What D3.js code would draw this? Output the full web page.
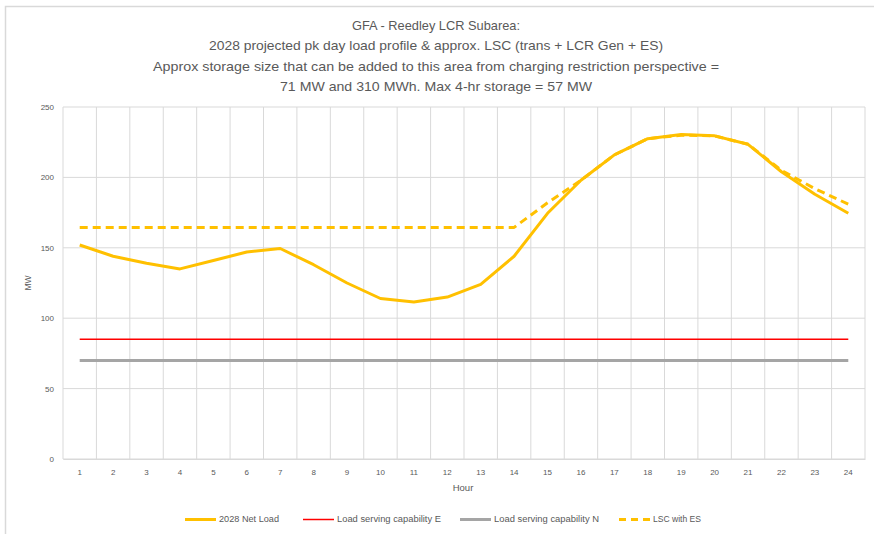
<!DOCTYPE html>
<html>
<head>
<meta charset="utf-8">
<script src="https://cdn.jsdelivr.net/npm/d3@7/dist/d3.min.js"></script>
<style>
	body { margin: 0; background: #fff; }
	svg text { font-family: "Liberation Sans Narrow", "Liberation Sans", Arial, sans-serif; fill: #595959; }
</style>
</head>
<body>
<svg id="chart" width="874" height="534"></svg>
<script>
"use strict";

// hours on the category axis
const hours = d3.range(1, 25);
// 2028 net load (MW)
const netLoad = [152, 144, 139, 135, 141, 147, 149.5, 138, 125, 114, 111.5, 115, 124, 144,
	174.5, 198, 216, 227.5, 230.5, 229.5, 223.5, 204, 188, 174.5];
// LSC with ES (MW)
const lscWithES = [164.5, 164.5, 164.5, 164.5, 164.5, 164.5, 164.5, 164.5, 164.5, 164.5, 164.5, 164.5, 164.5, 164.5,
	182, 198, 216, 227.5, 230, 229.5, 223.5, 205, 192, 181];
const capE = hours.map(() => 85);
const capN = hours.map(() => 70);
const yTicks = [0, 50, 100, 150, 200, 250];

const titleLines = [
	"GFA - Reedley LCR Subarea:",
	"2028 projected pk day load profile & approx. LSC (trans + LCR Gen + ES)",
	"Approx storage size that can be added to this area from charging restriction perspective =",
	"71 MW and 310 MWh. Max 4-hr storage = 57 MW"
];
const titleWidths = [168, 454, 566, 312];

const series = [
	{ name: "2028 Net Load", values: netLoad, color: "#ffc000", width: 3, dash: null },
	{ name: "Load serving capability E", values: capE, color: "#ff0000", width: 1.5, dash: null },
	{ name: "Load serving capability N", values: capN, color: "#a5a5a5", width: 3, dash: null },
	{ name: "LSC with ES", values: lscWithES, color: "#ffc000", width: 3, dash: "8,5" }
];
// legend text widths as measured on the picture
const legendTextW = [60, 104, 105, 48];

const margin = { left: 63, right: 9, top: 107, bottom: 75 };
const W = 874, H = 534;
const width = W - margin.left - margin.right;
const height = H - margin.top - margin.bottom;

const svg = d3.select("#chart");

// chart frame
svg.append("rect")
	.attr("x", 5.5).attr("y", 6.5)
	.attr("width", 880).attr("height", 540)
	.attr("fill", "none")
	.attr("stroke", "#d9d9d9")
	.attr("stroke-width", 1.5);

// title
svg.selectAll(".title")
	.data(titleLines)
	.enter()
	.append("text")
	.classed("title", true)
	.attr("x", 436)
	.attr("y", (d, i) => 25 + i * 20.5)
	.attr("dy", "0.35em")
	.attr("text-anchor", "middle")
	.attr("textLength", (d, i) => titleWidths[i])
	.attr("lengthAdjust", "spacingAndGlyphs")
	.style("font-size", "13.5px")
	.text(d => d);

const g = svg.append("g")
	.attr("transform", `translate(${margin.left}, ${margin.top})`);

const xscale = d3.scaleBand()
	.domain(hours)
	.range([0, width])
	.padding(0);
const yscale = d3.scaleLinear()
	.domain([0, 250])
	.range([height, 0]);

// horizontal gridlines
g.append("g")
	.selectAll("line")
	.data(yTicks)
	.enter()
	.append("line")
	.attr("x1", 0).attr("x2", width)
	.attr("y1", d => yscale(d)).attr("y2", d => yscale(d))
	.attr("stroke", "#d9d9d9")
	.attr("stroke-width", 1);

// vertical gridlines at category boundaries
g.append("g")
	.selectAll("line")
	.data(hours.concat([25]))
	.enter()
	.append("line")
	.attr("x1", d => d <= 24 ? xscale(d) : width)
	.attr("x2", d => d <= 24 ? xscale(d) : width)
	.attr("y1", 0).attr("y2", height)
	.attr("stroke", "#d9d9d9")
	.attr("stroke-width", 1);

// y axis labels
const yaxis = d3.axisLeft(yscale).tickValues(yTicks).tickSize(0).tickPadding(9);
g.append("g")
	.call(yaxis)
	.call(a => a.select(".domain").remove())
	.selectAll("text")
	.style("font-size", "8px")
	.attr("fill", "#595959");

// x axis labels
const xaxis = d3.axisBottom(xscale).tickSize(0).tickPadding(10);
g.append("g")
	.attr("transform", `translate(0, ${height})`)
	.call(xaxis)
	.call(a => a.select(".domain").attr("stroke", "#d9d9d9"))
	.selectAll("text")
	.style("font-size", "8px")
	.attr("fill", "#595959");

// axis titles
svg.append("text")
	.attr("x", 463).attr("y", 488)
	.attr("dy", "0.35em")
	.attr("text-anchor", "middle")
	.style("font-size", "9.5px")
	.text("Hour");
svg.append("text")
	.attr("transform", "translate(28, 283) rotate(-90)")
	.attr("dy", "0.35em")
	.attr("text-anchor", "middle")
	.style("font-size", "8.5px")
	.text("MW");

const line = d3.line()
	.x((d, i) => xscale(hours[i]) + xscale.bandwidth() / 2)
	.y(d => yscale(d));

// draw order: capability lines, then LSC, then net load on top
const drawOrder = [1, 2, 3, 0];
g.append("g")
	.selectAll("path")
	.data(drawOrder.map(i => series[i]))
	.enter()
	.append("path")
	.attr("d", d => line(d.values))
	.attr("fill", "none")
	.attr("stroke", d => d.color)
	.attr("stroke-width", d => d.width)
	.attr("stroke-dasharray", d => d.dash)
	.attr("stroke-linejoin", "round");

// legend
const legendX = [185, 303, 460, 619];
const legend = svg.append("g")
	.selectAll("g")
	.data(series)
	.enter()
	.append("g")
	.attr("transform", (d, i) => `translate(${legendX[i]}, 519.5)`);
legend.append("line")
	.attr("x1", 0).attr("x2", 31)
	.attr("stroke", d => d.color)
	.attr("stroke-width", d => d.width)
	.attr("stroke-dasharray", d => d.dash ? "7,5" : null);
legend.append("text")
	.attr("x", 34)
	.attr("dy", "0.35em")
	.attr("textLength", (d, i) => legendTextW[i])
	.attr("lengthAdjust", "spacingAndGlyphs")
	.style("font-size", "8.5px")
	.text(d => d.name);
</script>
</body>
</html>
